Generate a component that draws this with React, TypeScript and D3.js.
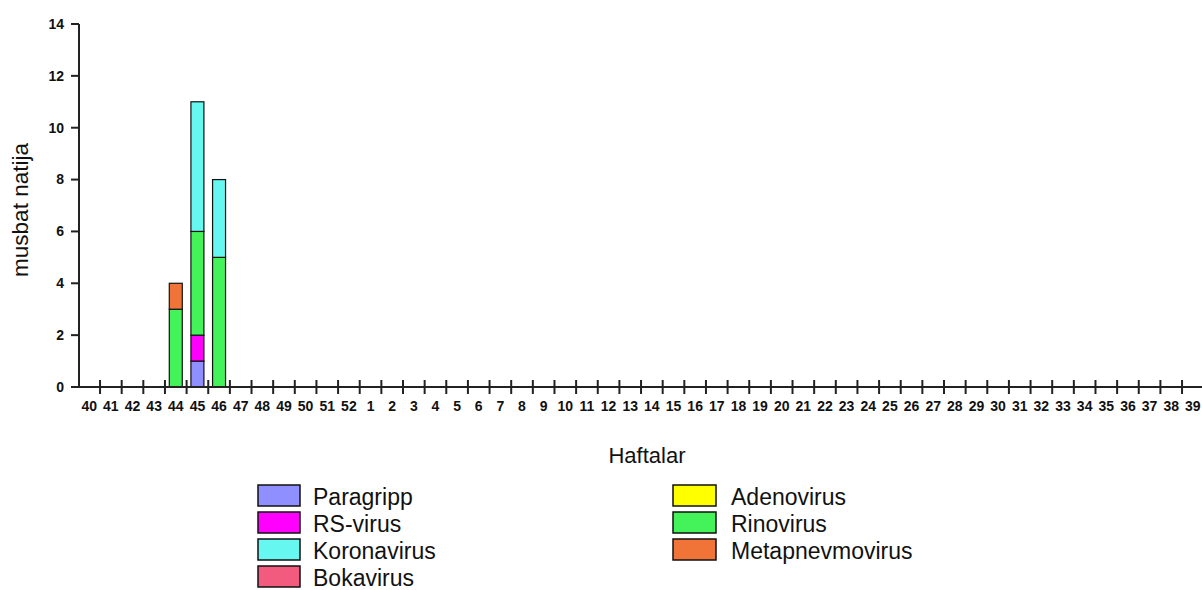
import React from "react";
import * as d3 from "d3";

const weeks: string[] = [
  "40","41","42","43","44","45","46","47","48","49","50","51","52",
  "1","2","3","4","5","6","7","8","9","10","11","12","13","14","15","16","17","18","19","20",
  "21","22","23","24","25","26","27","28","29","30","31","32","33","34","35","36","37","38","39",
];

const seriesNames: string[] = ["Paragripp","RS-virus","Adenovirus","Bokavirus","Rinovirus","Koronavirus","Metapnevmovirus"];
const seriesColors: string[] = ["#8f8fff","#ff00ff","#ffff00","#f25a7e","#44f25a","#66f7f0","#f07438"];

// values by week (only non-zero weeks listed)
const paragripp: Record<string, number> = { "45": 1 };
const rsVirus: Record<string, number> = { "45": 1 };
const adenovirus: Record<string, number> = {};
const bokavirus: Record<string, number> = {};
const rinovirus: Record<string, number> = { "44": 3, "45": 4, "46": 5 };
const koronavirus: Record<string, number> = { "45": 5, "46": 3 };
const metapnevmovirus: Record<string, number> = { "44": 1 };

const seriesValues = [paragripp, rsVirus, adenovirus, bokavirus, rinovirus, koronavirus, metapnevmovirus];

const yTicks: number[] = [0, 2, 4, 6, 8, 10, 12, 14];

const legendLeft: string[] = ["Paragripp","RS-virus","Koronavirus","Bokavirus"];
const legendRight: string[] = ["Adenovirus","Rinovirus","Metapnevmovirus"];

const W = 1202, H = 590;
const axisX = 79, axisY = 387;
const band = 21.64;

export default function App() {
  const x = d3.scaleBand<string>().domain(weeks).range([78.4, 78.4 + band * weeks.length]).paddingInner(0.4).paddingOuter(0.2);
  const y = d3.scaleLinear().domain([0, 14]).range([axisY, 24]);

  const table = weeks.map((w) => {
    const row: any = { week: w };
    seriesNames.forEach((s, i) => (row[s] = seriesValues[i][w] ?? 0));
    return row;
  });
  const stack = d3.stack<any>().keys(seriesNames)(table);
  const colorOf = (n: string) => seriesColors[seriesNames.indexOf(n)];
  const step = x.step();
  const x0 = x.range()[0];

  const font = "Arial, 'Liberation Sans', sans-serif";

  return (
    <svg width={W} height={H} style={{ position: "absolute", left: 0, top: 0 }} fontFamily={font}>
      <rect width={W} height={H} fill="#fff" />
      {stack.map((layer) =>
        layer.map((d, i) =>
          d[1] - d[0] > 0 ? (
            <rect
              key={layer.key + i}
              x={x(weeks[i])!}
              width={x.bandwidth()}
              y={y(d[1])}
              height={y(d[0]) - y(d[1])}
              fill={colorOf(layer.key)}
              stroke="#111"
              strokeWidth={1.2}
            />
          ) : null
        )
      )}
      {/* y axis */}
      <line x1={axisX} x2={axisX} y1={y(14)} y2={axisY} stroke="#222" strokeWidth={2} />
      {yTicks.map((t) => (
        <g key={t}>
          <line x1={71} x2={axisX} y1={y(t)} y2={y(t)} stroke="#222" strokeWidth={2} />
          <text x={64} y={y(t)} dy="0.35em" textAnchor="end" fontSize={14} fontWeight="bold" fill="#111">
            {t}
          </text>
        </g>
      ))}
      {/* x axis */}
      <line x1={71} x2={W} y1={axisY} y2={axisY} stroke="#222" strokeWidth={2} />
      {weeks.slice(1).map((w, i) => {
        const xx = x0 + step * (i + 1);
        return <line key={w} x1={xx} x2={xx} y1={axisY - 7} y2={axisY + 7} stroke="#222" strokeWidth={2} />;
      })}
      {weeks.map((w) => (
        <text key={w} x={x(w)! + x.bandwidth() / 2} y={411} textAnchor="middle" fontSize={14} fontWeight="bold" fill="#111">
          {w}
        </text>
      ))}
      {/* axis titles */}
      <text x={647} y={463} textAnchor="middle" fontSize={22} fill="#111">Haftalar</text>
      <text transform={`translate(28,210) rotate(-90)`} textAnchor="middle" fontSize={22.5} fill="#111">musbat natija</text>
      {/* legend */}
      {legendLeft.map((n, i) => (
        <g key={n}>
          <rect x={258} y={485 + i * 27} width={42} height={21} fill={colorOf(n)} stroke="#111" strokeWidth={1.5} />
          <text x={313} y={505 + i * 27} fontSize={23} fill="#111">{n}</text>
        </g>
      ))}
      {legendRight.map((n, i) => (
        <g key={n}>
          <rect x={673} y={485 + i * 27} width={43} height={21} fill={colorOf(n)} stroke="#111" strokeWidth={1.5} />
          <text x={731} y={505 + i * 27} fontSize={23} fill="#111">{n}</text>
        </g>
      ))}
    </svg>
  );
}
